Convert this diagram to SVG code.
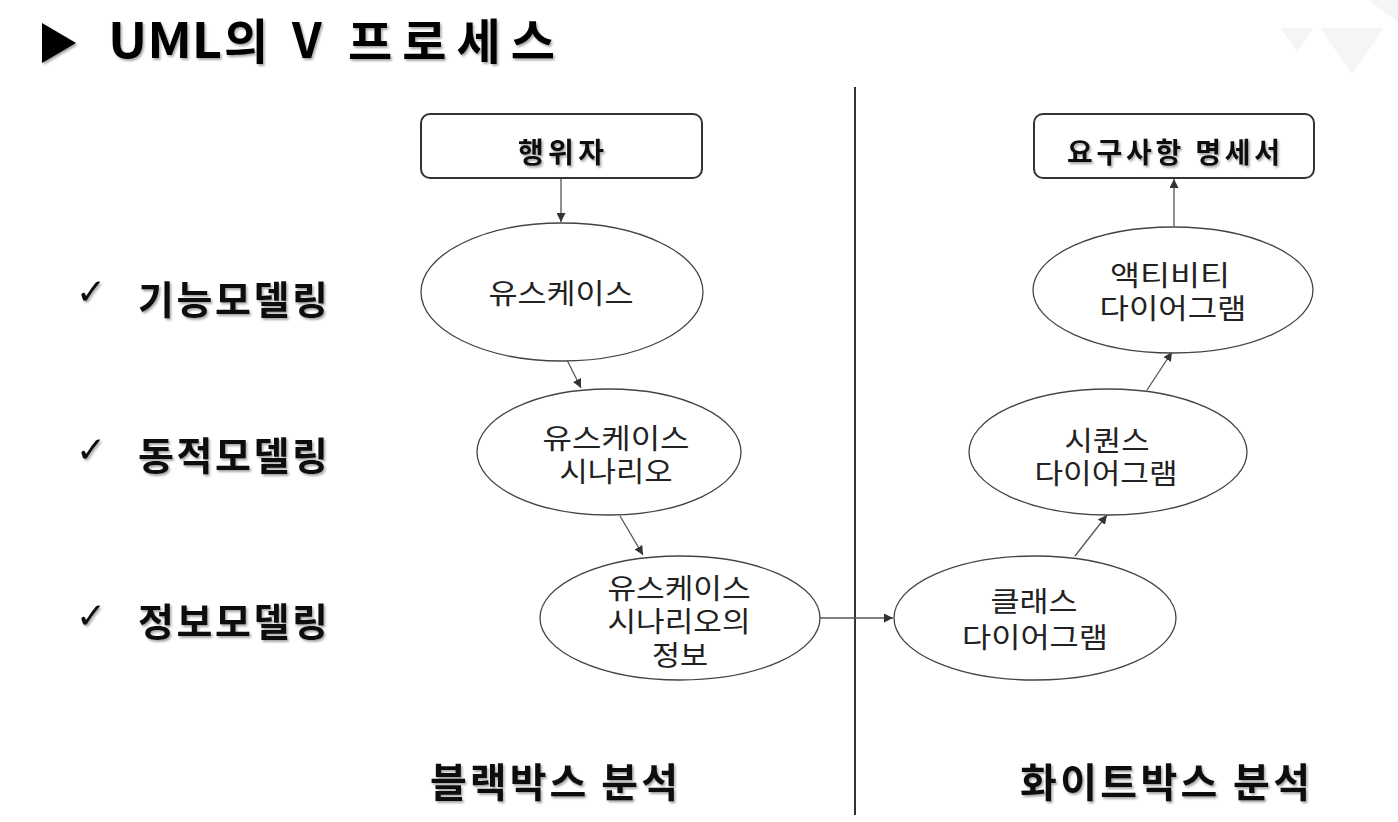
<svg xmlns="http://www.w3.org/2000/svg" width="1398" height="822" viewBox="0 0 1398 822">
<style>
.bold{font-family:"Noto Sans CJK KR","Noto Sans",sans-serif;font-weight:700;fill:#111}
.ttl{font-family:"Noto Sans CJK KR","Noto Sans",sans-serif;font-weight:700;font-size:48px;fill:#000}
.lbl{font-family:"Noto Sans CJK KR","Noto Sans",sans-serif;font-weight:400;font-size:28px;fill:#222;text-anchor:middle}
.chk{font-family:"DejaVu Sans",sans-serif;font-size:36px;fill:#111}
.node{fill:#fff;stroke:#444;stroke-width:1.3}
.box{fill:#fff;stroke:#333;stroke-width:2}
.conn{stroke:#555;stroke-width:1.3;fill:none;marker-end:url(#arr)}
</style>
<defs>
<marker id="arr" viewBox="0 0 10 10" refX="10" refY="5" markerWidth="9" markerHeight="9" markerUnits="userSpaceOnUse" orient="auto">
<path d="M0,0 L10,5 L0,10 z" fill="#333"/>
</marker>
<filter id="sh" x="-5%" y="-10%" width="115%" height="130%">
<feDropShadow dx="1.5" dy="2" stdDeviation="1.2" flood-color="#000" flood-opacity="0.35"/>
</filter>
</defs>
<rect width="1398" height="822" fill="#fff"/>
<g id="watermark" fill="#f5f5f5">
<path d="M1280,28 L1314,28 L1297,52 z"/>
<path d="M1320,28 L1384,28 L1352,74 z"/>
<path d="M1368,0 L1398,0 L1398,22 z"/>
</g>
<g id="title" filter="url(#sh)">
<path d="M42,23 L76,43 L42,63 z" fill="#000"/>
<text class="ttl" x="108" y="58" textLength="114" lengthAdjust="spacingAndGlyphs">UML</text>
<text class="ttl" x="224" y="59">의</text>
<text class="ttl" x="292" y="58">V</text>
<text class="ttl" x="348" y="59" textLength="207" lengthAdjust="spacing">프로세스</text>
</g>
<g id="divider"><line x1="855" y1="87" x2="855" y2="815" stroke="#333" stroke-width="2"/></g>
<g id="side-labels" filter="url(#sh)">
<text class="chk" x="76" y="304">✓</text>
<text class="bold" x="138" y="314" font-size="39" textLength="190" lengthAdjust="spacing">기능모델링</text>
<text class="chk" x="76" y="462">✓</text>
<text class="bold" x="138" y="470" font-size="39" textLength="190" lengthAdjust="spacing">동적모델링</text>
<text class="chk" x="76" y="628">✓</text>
<text class="bold" x="138" y="636" font-size="39" textLength="190" lengthAdjust="spacing">정보모델링</text>
</g>
<g id="bottom-labels" filter="url(#sh)">
<text class="bold" x="430" y="797" font-size="40" textLength="248" lengthAdjust="spacing">블랙박스 분석</text>
<text class="bold" x="1020" y="797" font-size="40" textLength="290" lengthAdjust="spacing">화이트박스 분석</text>
</g>
<g id="connectors">
<line class="conn" x1="561" y1="178" x2="561" y2="222"/>
<line class="conn" x1="567" y1="360" x2="581" y2="388"/>
<line class="conn" x1="620" y1="516" x2="643" y2="555"/>
<line class="conn" x1="820" y1="618" x2="893" y2="618"/>
<line class="conn" x1="1075" y1="556" x2="1107" y2="515"/>
<line class="conn" x1="1147" y1="390" x2="1172" y2="352"/>
<line class="conn" x1="1174" y1="226" x2="1174" y2="179"/>
</g>
<g id="n-actor">
<rect class="box" x="421" y="114" width="281" height="64" rx="9"/>
<text class="bold" x="518" y="163" font-size="28" textLength="86" lengthAdjust="spacing" filter="url(#sh)">행위자</text>
</g>
<g id="n-usecase">
<ellipse class="node" cx="562" cy="292" rx="141" ry="69"/>
<text class="lbl" x="561" y="304" textLength="145" lengthAdjust="spacingAndGlyphs">유스케이스</text>
</g>
<g id="n-scenario">
<ellipse class="node" cx="609" cy="452" rx="132" ry="63"/>
<text class="lbl" x="616" y="449" textLength="147" lengthAdjust="spacingAndGlyphs">유스케이스</text>
<text class="lbl" x="616" y="482" textLength="113" lengthAdjust="spacingAndGlyphs">시나리오</text>
</g>
<g id="n-info">
<ellipse class="node" cx="680" cy="618" rx="140" ry="62"/>
<text class="lbl" x="679" y="599" textLength="143" lengthAdjust="spacingAndGlyphs">유스케이스</text>
<text class="lbl" x="679" y="632" textLength="143" lengthAdjust="spacingAndGlyphs">시나리오의</text>
<text class="lbl" x="680" y="666" textLength="56" lengthAdjust="spacingAndGlyphs">정보</text>
</g>
<g id="n-class">
<ellipse class="node" cx="1035" cy="618" rx="141" ry="62"/>
<text class="lbl" x="1034" y="612" textLength="87" lengthAdjust="spacingAndGlyphs">클래스</text>
<text class="lbl" x="1035" y="648" textLength="146" lengthAdjust="spacingAndGlyphs">다이어그램</text>
</g>
<g id="n-sequence">
<ellipse class="node" cx="1108" cy="452" rx="139" ry="63"/>
<text class="lbl" x="1107" y="451" textLength="85" lengthAdjust="spacingAndGlyphs">시퀀스</text>
<text class="lbl" x="1106" y="484" textLength="143" lengthAdjust="spacingAndGlyphs">다이어그램</text>
</g>
<g id="n-activity">
<ellipse class="node" cx="1173" cy="290" rx="140" ry="63"/>
<text class="lbl" x="1170" y="286" textLength="120" lengthAdjust="spacingAndGlyphs">액티비티</text>
<text class="lbl" x="1173" y="319" textLength="147" lengthAdjust="spacingAndGlyphs">다이어그램</text>
</g>
<g id="n-req">
<rect class="box" x="1034" y="114" width="280" height="64" rx="9"/>
<text class="bold" x="1067" y="163" font-size="28" textLength="213" lengthAdjust="spacing" filter="url(#sh)">요구사항 명세서</text>
</g>
</svg>
